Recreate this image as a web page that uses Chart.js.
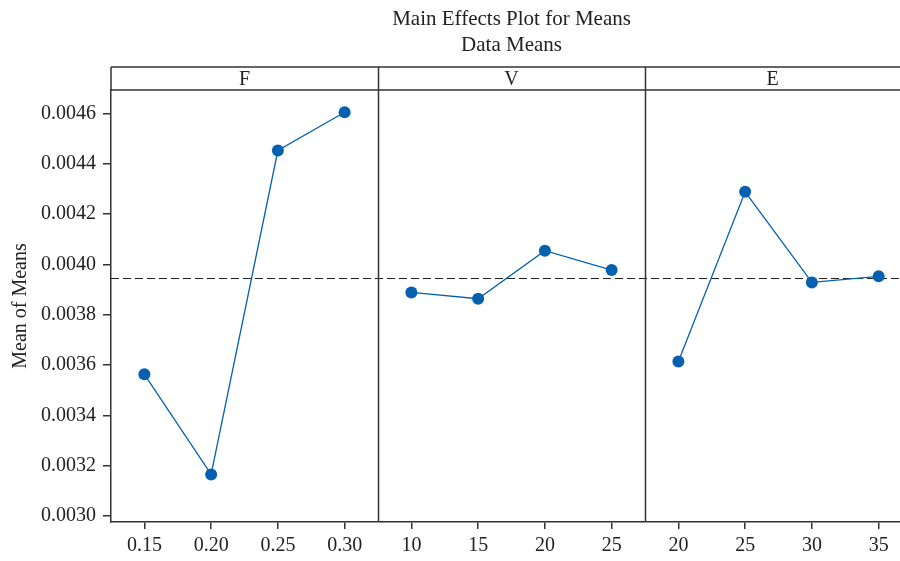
<!DOCTYPE html>
<html>
<head>
<meta charset="utf-8">
<script src="https://cdn.jsdelivr.net/npm/chart.js@4"></script>
<style>
  html, body { margin:0; padding:0; background:#fff; }
  #wrap { width:900px; height:561px; }
</style>
</head>
<body>
<div id="wrap"><canvas id="chart" width="900" height="561"></canvas></div>
<script>
// ---------------- DATA ----------------
const panelNames = ['F', 'V', 'E'];
const fLevels = ['0.15', '0.20', '0.25', '0.30'];
const fMeans  = [0.003563, 0.003165, 0.004452, 0.004604];
const vLevels = ['10', '15', '20', '25'];
const vMeans  = [0.003888, 0.003863, 0.004054, 0.003977];
const eLevels = ['20', '25', '30', '35'];
const eMeans  = [0.003614, 0.004288, 0.003928, 0.003952];
const grandMean = 0.003945;
const yTicks = [0.0030, 0.0032, 0.0034, 0.0036, 0.0038, 0.0040, 0.0042, 0.0044, 0.0046];

const panels = [
    {levels: fLevels, means: fMeans},
    {levels: vLevels, means: vMeans},
    {levels: eLevels, means: eMeans}
];

// positions along a single linear x axis: 4 slots per panel
const tickPos = [];
const tickLabels = [];
panels.forEach((p, pi) => {
    p.levels.forEach((lv, i) => {
        tickPos.push(pi * 4 + i + 0.5);
        tickLabels.push(lv);
    });
});

const blue = '#0561b0';
const frame = '#333';
const font = "'Liberation Serif', 'DejaVu Serif', serif";

const datasets = panels.map((p, pi) => ({
    data: p.means.map((m, i) => ({x: pi * 4 + i + 0.5, y: m})),
    borderColor: blue,
    backgroundColor: blue,
    borderWidth: 1.3,
    pointRadius: 6,
    pointBorderWidth: 0,
    pointHoverRadius: 6,
    tension: 0
}));

// ---------------- frame, header, title, mean line ----------------
const panelPlugin = {
    id: 'panelPlugin',
    beforeDatasetsDraw(chart) {
        const {ctx, chartArea: a, scales: {y}} = chart;
        const ym = Math.round(y.getPixelForValue(grandMean)) + 0.5;
        ctx.save();
        ctx.strokeStyle = '#222';
        ctx.lineWidth = 1;
        ctx.setLineDash([8, 4]);
        ctx.beginPath();
        ctx.moveTo(a.left, ym);
        ctx.lineTo(a.right, ym);
        ctx.stroke();
        ctx.restore();
    },
    afterDraw(chart) {
        const {ctx, chartArea: a, scales: {x}} = chart;
        const headTop = 67;
        ctx.save();
        ctx.strokeStyle = frame;
        ctx.lineWidth = 1.5;
        ctx.beginPath();
        ctx.moveTo(a.left, headTop); ctx.lineTo(a.right, headTop);
        ctx.moveTo(a.left, a.top); ctx.lineTo(a.right, a.top);
        ctx.moveTo(a.left, headTop); ctx.lineTo(a.left, a.top);
        [4, 8].forEach(v => {
            const px = Math.round(x.getPixelForValue(v)) + 0.5;
            ctx.moveTo(px, headTop); ctx.lineTo(px, a.bottom);
        });
        ctx.stroke();

        ctx.fillStyle = '#222';
        ctx.textAlign = 'center';
        ctx.textBaseline = 'middle';
        ctx.font = '20px ' + font;
        panelNames.forEach((n, i) => {
            const l = x.getPixelForValue(i * 4);
            const r = Math.min(x.getPixelForValue(i * 4 + 4), a.right);
            ctx.fillText(n, (l + r) / 2, (headTop + a.top) / 2 + 1);
        });

        ctx.font = '21px ' + font;
        const cx = x.getPixelForValue(6);
        ctx.fillText('Main Effects Plot for Means', cx, 19);
        ctx.fillText('Data Means', cx, 45);
        ctx.restore();
    }
};

new Chart(document.getElementById('chart').getContext('2d'), {
    type: 'line',
    data: {datasets},
    options: {
        responsive: false,
        animation: false,
        layout: {autoPadding: false, padding: {top: 90, right: 0, bottom: 0, left: 0}},
        plugins: {
            legend: {display: false},
            tooltip: {enabled: false},
            title: {display: false}
        },
        scales: {
            x: {
                type: 'linear',
                min: 0,
                max: 11.82,
                afterBuildTicks: s => { s.ticks = tickPos.map(v => ({value: v})); },
                afterFit: s => { s.height = 39; s.paddingRight = 0; s.paddingLeft = 0; },
                grid: {drawOnChartArea: false, drawTicks: true, tickLength: 7, color: frame, lineWidth: 1.5},
                border: {display: true, color: frame, width: 1.5},
                ticks: {
                    autoSkip: false,
                    maxRotation: 0,
                    padding: 5,
                    color: '#222',
                    font: {family: font, size: 20},
                    callback: (v, i) => tickLabels[i]
                }
            },
            y: {
                min: 0.002976,
                max: 0.0046925,
                afterBuildTicks: s => { s.ticks = yTicks.map(v => ({value: v})); },
                afterFit: s => { s.width = 111; s.paddingTop = 0; s.paddingBottom = 0; },
                grid: {drawOnChartArea: false, drawTicks: true, tickLength: 8, color: frame, lineWidth: 1.5},
                border: {display: true, color: frame, width: 1.5},
                title: {
                    display: true,
                    text: 'Mean of Means',
                    color: '#222',
                    font: {family: font, size: 20},
                    padding: {top: 9, bottom: 0}
                },
                ticks: {
                    padding: 7,
                    color: '#222',
                    font: {family: font, size: 20},
                    callback: v => v.toFixed(4)
                }
            }
        }
    },
    plugins: [panelPlugin]
});
</script>
</body>
</html>
